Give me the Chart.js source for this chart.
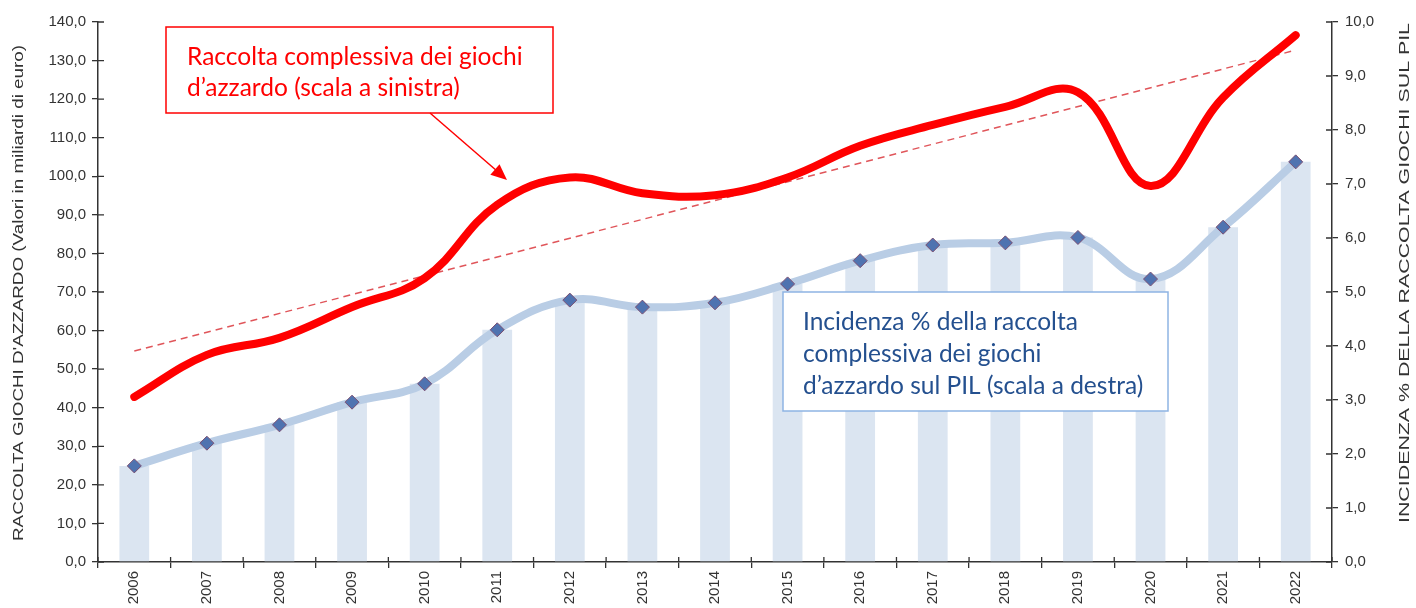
<!DOCTYPE html>
<html>
<head>
<meta charset="utf-8">
<script src="https://cdn.jsdelivr.net/npm/chart.js@4"></script>
<style>
  html, body { margin: 0; padding: 0; background: #fff; }
  #wrap { width: 1416px; height: 608px; }
</style>
</head>
<body>
<div id="wrap"><canvas id="grafico" width="1416" height="608"></canvas></div>
<script>
// dati
const anni = ['2006', '2007', '2008', '2009', '2010', '2011', '2012', '2013', '2014', '2015', '2016', '2017', '2018', '2019', '2020', '2021', '2022'];
const raccolta = [42.8, 53.7, 58.1, 66.1, 73.6, 92.6, 99.7, 95.6, 95.1, 99.7, 107.9, 113.3, 118.0, 121.8, 97.5, 120.4, 136.6];   // miliardi di euro
const incidenza = [1.78, 2.20, 2.54, 2.96, 3.30, 4.30, 4.85, 4.72, 4.80, 5.15, 5.58, 5.87, 5.91, 6.01, 5.24, 6.20, 7.41];      // % sul PIL
const trendEstremi = [54.7, 132.7];   // retta di tendenza: primo e ultimo anno
const yTicksSx = [0, 140, 10];
const yTicksDx = [0, 10, 1];

const trendData = anni.map((a, i) => i === 0 ? trendEstremi[0] : (i === anni.length - 1 ? trendEstremi[1] : null));

const fontAssi = "'Liberation Sans', Arial, sans-serif";
const fontBox = "Lato, 'Open Sans', sans-serif";
const coloreAssi = '#333333';
const virgola = v => v.toFixed(1).replace('.', ',');

// testo verticale (dal basso verso l'alto), allungato fino a una lunghezza data
function titoloVerticale(ctx, testo, cx, cy, lunghezza) {
    ctx.save();
    ctx.fillStyle = coloreAssi;
    ctx.font = '15px ' + fontAssi;
    ctx.textAlign = 'center';
    ctx.textBaseline = 'middle';
    const w = ctx.measureText(testo).width;
    ctx.translate(cx, cy);
    ctx.rotate(-Math.PI / 2);
    ctx.scale(lunghezza / w, 1);
    ctx.fillText(testo, 0, 0);
    ctx.restore();
}

const extraPlugin = {
    id: 'extra',
    afterDatasetsDraw(chart) {
        const ctx = chart.ctx;
        const ca = chart.chartArea;

        // tacche interne (a croce come in Excel)
        ctx.save();
        ctx.strokeStyle = coloreAssi;
        ctx.lineWidth = 1.3;
        ctx.beginPath();
        const ys = chart.scales.y, yd = chart.scales.y1;
        ys.ticks.forEach((t, i) => { const p = ys.getPixelForTick(i); ctx.moveTo(ca.left, p); ctx.lineTo(ca.left + 6, p); });
        yd.ticks.forEach((t, i) => { const p = yd.getPixelForTick(i); ctx.moveTo(ca.right - 6, p); ctx.lineTo(ca.right, p); });
        const passo = (ca.right - ca.left) / anni.length;
        for (let i = 0; i <= anni.length; i++) {
            const px = ca.left + i * passo;
            ctx.moveTo(px, ca.bottom - 5); ctx.lineTo(px, ca.bottom);
        }
        ctx.stroke();
        ctx.restore();

        // titoli assi
        titoloVerticale(ctx, "RACCOLTA GIOCHI D'AZZARDO (Valori in miliardi di euro)", 19, 293, 496);
        titoloVerticale(ctx, 'INCIDENZA % DELLA RACCOLTA GIOCHI SUL PIL', 1405, 273, 500);

        // riquadro rosso
        ctx.save();
        ctx.fillStyle = '#ffffff';
        ctx.fillRect(166, 27, 387, 86);
        ctx.strokeStyle = '#ff0000';
        ctx.lineWidth = 1.5;
        ctx.strokeRect(166, 27, 387, 86);
        ctx.fillStyle = '#ff0000';
        ctx.font = '24.5px ' + fontBox;
        ctx.textBaseline = 'middle';
        ctx.fillText('Raccolta complessiva dei giochi', 187, 57);
        ctx.fillText('d’azzardo (scala a sinistra)', 187, 88);

        // freccia
        ctx.strokeStyle = '#ff0000';
        ctx.lineWidth = 1.5;
        ctx.beginPath();
        ctx.moveTo(430, 113);
        ctx.lineTo(497, 171);
        ctx.stroke();
        const ang = Math.atan2(180 - 113, 507 - 430);
        ctx.beginPath();
        ctx.moveTo(507, 180);
        ctx.lineTo(507 - 16 * Math.cos(ang) + 7 * Math.sin(ang), 180 - 16 * Math.sin(ang) - 7 * Math.cos(ang));
        ctx.lineTo(507 - 16 * Math.cos(ang) - 7 * Math.sin(ang), 180 - 16 * Math.sin(ang) + 7 * Math.cos(ang));
        ctx.closePath();
        ctx.fill();
        ctx.restore();

        // riquadro blu
        ctx.save();
        ctx.fillStyle = '#ffffff';
        ctx.fillRect(783, 292, 385, 119);
        ctx.strokeStyle = '#8eb4e3';
        ctx.lineWidth = 1.5;
        ctx.strokeRect(783, 292, 385, 119);
        ctx.fillStyle = '#24508f';
        ctx.font = '24.5px ' + fontBox;
        ctx.textBaseline = 'middle';
        ctx.fillText('Incidenza % della raccolta', 803, 322);
        ctx.fillText('complessiva dei giochi', 803, 354);
        ctx.fillText('d’azzardo sul PIL (scala a destra)', 803, 386);
        ctx.restore();
    }
};

const ctx = document.getElementById('grafico').getContext('2d');
const grafico = new Chart(ctx, {
    data: {
        labels: anni,
        datasets: [
            {
                type: 'line',
                label: 'Raccolta complessiva',
                data: raccolta,
                yAxisID: 'y',
                borderColor: '#ff0000',
                borderWidth: 8,
                tension: 0.4,
                pointRadius: 0,
                borderCapStyle: 'round',
                order: 0
            },
            {
                type: 'line',
                label: 'Tendenza',
                data: trendData,
                yAxisID: 'y',
                borderColor: '#e0555a',
                borderWidth: 1.5,
                borderDash: [7, 5],
                spanGaps: true,
                tension: 0,
                pointRadius: 0,
                order: 1
            },
            {
                type: 'line',
                label: 'Incidenza % sul PIL',
                data: incidenza,
                yAxisID: 'y1',
                borderColor: '#b9cde5',
                borderWidth: 8,
                tension: 0.4,
                pointStyle: 'rectRot',
                pointRadius: 7,
                pointBackgroundColor: '#4f73b0',
                pointBorderColor: '#7a4f72',
                pointBorderWidth: 1,
                order: 2
            },
            {
                type: 'bar',
                label: 'Incidenza (barre)',
                data: incidenza,
                yAxisID: 'y1',
                backgroundColor: '#dbe5f1',
                categoryPercentage: 1,
                barPercentage: 0.41,
                order: 3
            }
        ]
    },
    options: {
        responsive: false,
        animation: false,
        layout: { padding: { top: 22, left: 0, right: 0, bottom: 0 } },
        plugins: {
            legend: { display: false },
            tooltip: { enabled: false }
        },
        scales: {
            x: {
                offset: true,
                grid: { offset: true, drawOnChartArea: false, drawTicks: true, tickLength: 6, color: coloreAssi, lineWidth: 1.3 },
                border: { color: coloreAssi, width: 1.5 },
                ticks: {
                    minRotation: 90, maxRotation: 90, padding: 3,
                    color: coloreAssi, font: { family: fontAssi, size: 15 }
                },
                afterFit: s => { s.height = 46; }
            },
            y: {
                position: 'left',
                min: yTicksSx[0], max: yTicksSx[1],
                grid: { drawOnChartArea: false, tickLength: 6, color: coloreAssi, lineWidth: 1.3 },
                border: { color: coloreAssi, width: 1.5 },
                ticks: {
                    stepSize: yTicksSx[2], padding: 6, color: coloreAssi,
                    font: { family: fontAssi, size: 15 },
                    callback: v => virgola(v)
                },
                afterFit: s => { s.width = 98; }
            },
            y1: {
                position: 'right',
                min: yTicksDx[0], max: yTicksDx[1],
                grid: { drawOnChartArea: false, tickLength: 6, color: coloreAssi, lineWidth: 1.3 },
                border: { color: coloreAssi, width: 1.5 },
                ticks: {
                    stepSize: yTicksDx[2], padding: 7, color: coloreAssi,
                    font: { family: fontAssi, size: 15 },
                    callback: v => virgola(v)
                },
                afterFit: s => { s.width = 84; }
            }
        }
    },
    plugins: [extraPlugin]
});
</script>
</body>
</html>
